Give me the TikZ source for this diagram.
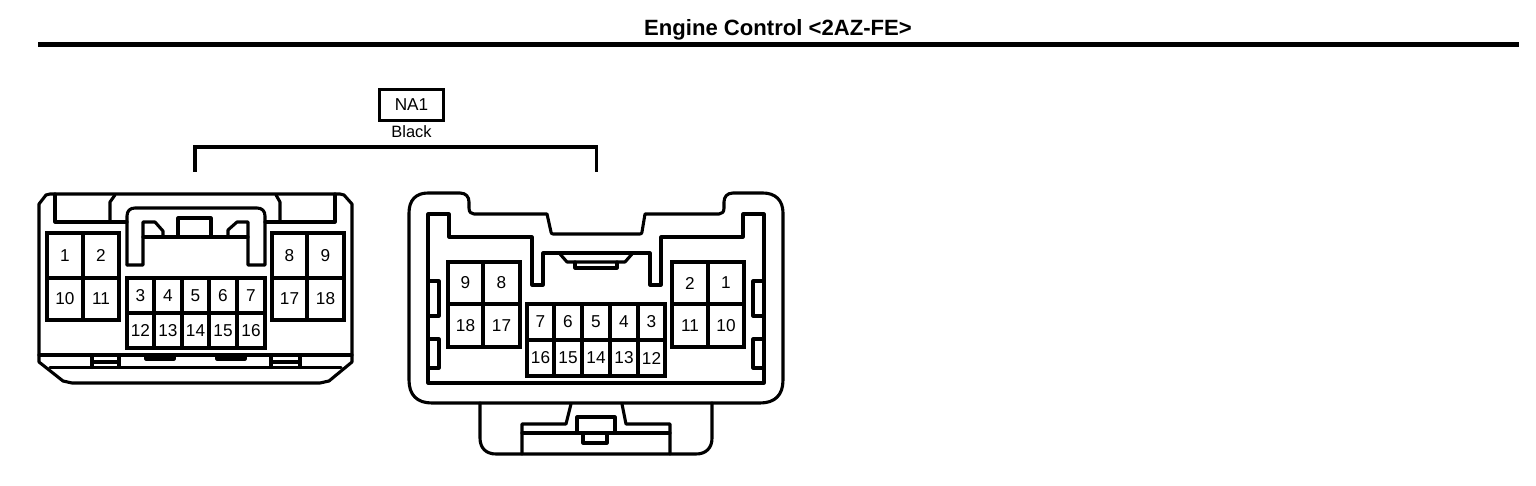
\documentclass[tikz,border=0pt]{standalone}
\usepackage{fontspec}
\setmainfont{Liberation Sans}
\tikzset{
  wire/.style={line width=1.55pt,line join=miter,line cap=butt},
  thick wire/.style={line width=1.55pt,line join=round,line cap=round},
  num/.style={font=\fontsize{8.6}{9}\selectfont,inner sep=0pt,text=black},
  rulebar/.style={line width=2.6pt},
}
\newcommand\cellbox[6]{\draw[wire] (#2,#3) rectangle (#4,#5) node[midway,num] (#1) {#6};}
\begin{document}
\begin{tikzpicture}[x=0.5pt,y=-0.5pt]
\useasboundingbox (0,0) rectangle (1536,486);
\fill[white] (0,0) rectangle (1536,486);
% header
\node[font=\bfseries\fontsize{11.05}{12}\selectfont,inner sep=0pt] (title) at (778,30) {Engine Control <2AZ-FE>};
\coordinate (ruleL) at (38,44.5);
\coordinate (ruleR) at (1519,44.5);
\draw[rulebar] (ruleL) -- (ruleR);
\node[wire,draw,minimum width=32pt,minimum height=15.5pt,inner sep=0pt,font=\fontsize{8.6}{9}\selectfont] (na) at (411.5,105) {NA1};
\node[num,font=\fontsize{8.2}{9}\selectfont] (black) at (411.5,132) {Black};
\coordinate (brL) at (195,172);
\coordinate (brR) at (596.5,172);
\draw[wire] (brL) |- (395,147) -- (596.5,147) -- (brR);
% ===== left connector =====
\begin{scope}[thick wire]
\draw (39,204) -- (39,355) -- (39,362) -- (63,381) -- (72,383) -- (320,383) -- (329,381) -- (352,362) -- (352,204) -- (344,195) -- (340,194) -- (50,194) -- (46,195) -- cycle;
\draw (39,355) -- (352,355);
\draw (50,367.5) -- (341,367.5);
\draw (55,194) -- (55,222) -- (127,222);
\draw (110,222) -- (110,202) -- (115,195);
\draw (335,194) -- (335,222) -- (265,222);
\draw (280,222) -- (280,202) -- (276,195);
% latch
\draw (127,265) -- (127,216) .. controls (127,211) and (130,208) .. (135,208) -- (257,208) .. controls (262,208) and (265,211) .. (265,216) -- (265,265) -- (248,265) -- (248,222) -- (237,222) -- (228,230) -- (228,237);
\draw (127,265) -- (143,265) -- (143,222) -- (155,222) -- (163,231) -- (163,237);
\draw (143,237) -- (248,237);
\draw (178,237) -- (178,218) -- (211,218) -- (211,237);
% bottom tabs
\draw (92,355) -- (92,367.5);
\draw (119,355) -- (119,367.5);
\draw (92,362) -- (119,362);
\draw (271,355) -- (271,367.5);
\draw (300,355) -- (300,367.5);
\draw (271,362) -- (300,362);
\draw (146,355) -- (146,359) -- (174,359) -- (174,355);
\draw (217,355) -- (217,359) -- (245,359) -- (245,355);
\end{scope}
\cellbox{la1}{47}{233}{83}{278}{1}
\cellbox{la2}{83}{233}{119}{278}{2}
\cellbox{la10}{47}{278}{83}{320}{10}
\cellbox{la11}{83}{278}{119}{320}{11}
\cellbox{la8}{272}{233}{307}{278}{8}
\cellbox{la9}{307}{233}{344}{278}{9}
\cellbox{la17}{272}{278}{307}{320}{17}
\cellbox{la18}{307}{278}{344}{320}{18}
\cellbox{la3}{127}{278}{154}{313}{3}
\cellbox{la4}{154}{278}{182}{313}{4}
\cellbox{la5}{182}{278}{209}{313}{5}
\cellbox{la6}{209}{278}{237}{313}{6}
\cellbox{la7}{237}{278}{265}{313}{7}
\cellbox{la12}{127}{313}{154}{348}{12}
\cellbox{la13}{154}{313}{182}{348}{13}
\cellbox{la14}{182}{313}{209}{348}{14}
\cellbox{la15}{209}{313}{237}{348}{15}
\cellbox{la16}{237}{313}{265}{348}{16}
% ===== right connector =====
\begin{scope}[thick wire]
\draw (409,213) .. controls (409,200) and (416,193) .. (428,193) -- (460,193) .. controls (466,193) and (469,197) .. (469,202) -- (469,208) .. controls (469,212) and (471,214) .. (474,214) -- (547,214) -- (551,232) .. controls (551,233) and (552,234) .. (553,234) -- (640,234) .. controls (641,234) and (642,233) .. (642,232) -- (645,214) -- (719,214) .. controls (722,214) and (724,212) .. (724,208) -- (724,202) .. controls (724,197) and (727,193) .. (733,193) -- (763,193) .. controls (775,193) and (783,200) .. (783,213) -- (783,380) .. controls (783,395) and (775,403) .. (760,403) -- (432,403) .. controls (417,403) and (409,395) .. (409,380) -- cycle;
\draw (428,214) -- (449,214) -- (449,237) -- (532,237) -- (532,285) -- (543,285) -- (543,253) -- (650,253) -- (650,285) -- (661,285) -- (661,237) -- (743,237) -- (743,214) -- (764,214) -- (764,383) -- (428,383) -- cycle;
\draw (560,254) -- (567,262) -- (625,262) -- (632,254);
\draw (575,262) -- (575,268) -- (617,268) -- (617,262);
\draw (428,281) -- (439,281) -- (439,316) -- (428,316);
\draw (428,339) -- (439,339) -- (439,368) -- (428,368);
\draw (764,281) -- (753,281) -- (753,316) -- (764,316);
\draw (764,339) -- (753,339) -- (753,368) -- (764,368);
% lower tab
\draw (480,403) -- (480,438) .. controls (480,448) and (486,454) .. (496,454) -- (696,454) .. controls (706,454) and (712,448) .. (712,438) -- (712,403);
\draw (571,404) -- (566,424) -- (522,424) -- (522,454);
\draw (622,404) -- (626,424) -- (670,424) -- (670,454);
\draw (522,433) -- (670,433);
\draw (577,433) -- (577,417) -- (615,417) -- (615,433);
\draw (583,433) -- (583,443) -- (607,443) -- (607,433);
\end{scope}
\cellbox{rb9}{448}{262}{483}{304}{9}
\cellbox{rb8}{483}{262}{520}{304}{8}
\cellbox{rb18}{448}{304}{483}{347}{18}
\cellbox{rb17}{483}{304}{520}{347}{17}
\cellbox{rb2}{672}{262}{708}{304}{2}
\cellbox{rb1}{708}{262}{744}{304}{1}
\cellbox{rb11}{672}{304}{708}{347}{11}
\cellbox{rb10}{708}{304}{744}{347}{10}
\cellbox{rb7}{527}{304}{554}{340}{7}
\cellbox{rb6}{554}{304}{582}{340}{6}
\cellbox{rb5}{582}{304}{610}{340}{5}
\cellbox{rb4}{610}{304}{638}{340}{4}
\cellbox{rb3}{638}{304}{665}{340}{3}
\cellbox{rb16}{527}{340}{554}{376}{16}
\cellbox{rb15}{554}{340}{582}{376}{15}
\cellbox{rb14}{582}{340}{610}{376}{14}
\cellbox{rb13}{610}{340}{638}{376}{13}
\cellbox{rb12}{638}{340}{665}{376}{12}
\end{tikzpicture}
\end{document}
